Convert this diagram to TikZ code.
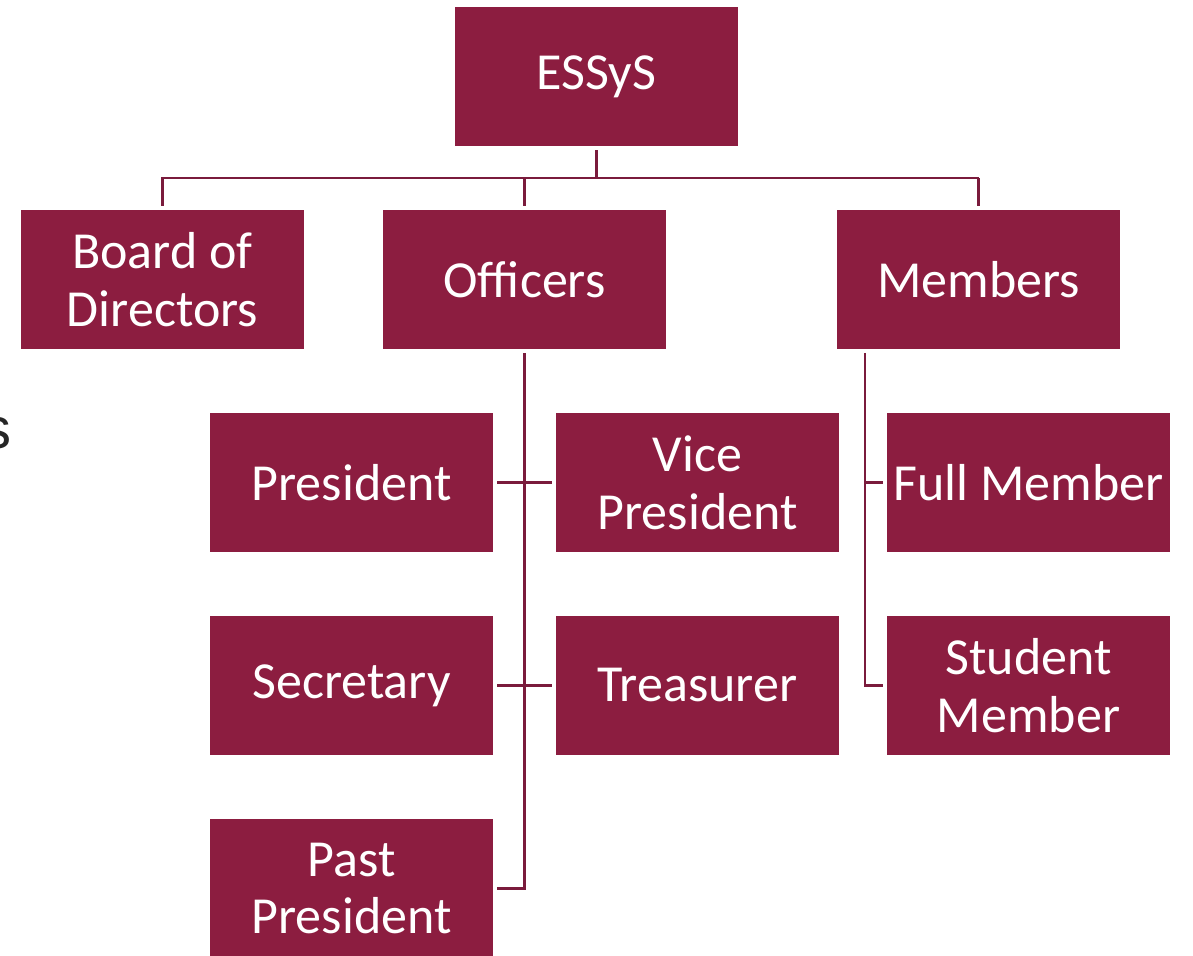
\documentclass[tikz,border=0pt]{standalone}
\usepackage{fontspec}
\setmainfont{Carlito}
\newfontfamily\arialfont{Liberation Sans}
\definecolor{maroon}{HTML}{8C1D40}
\definecolor{linemaroon}{HTML}{7A1B3C}
\begin{document}
\begin{tikzpicture}[x=0.02cm,y=-0.02cm,
    box/.style={fill=maroon, text=white, minimum width=5.66cm, minimum height=2.78cm,
        inner sep=0pt, align=center, font=\fontsize{29.6}{33}\selectfont},
    link/.style={draw=linemaroon, line width=1.4pt, shorten <=2.2pt}]
    \useasboundingbox (0,0) rectangle (1193,956);
    \node[anchor=base east, text=black!85, font=\arialfont\fontsize{33}{36}\selectfont] (cut) at (18,448) {s};
    \node[box] (essys) at (596.5,76.5) {ESSyS};
    \node[box] (board) at (162.5,279.5) {Board of\\Directors};
    \node[box] (officers) at (524.5,279.5) {Officers};
    \node[box] (members) at (978.5,279.5) {Members};
    \node[box] (president) at (351.5,482.5) {President};
    \node[box] (vice) at (697.5,482.5) {Vice\\President};
    \node[box] (full) at (1028.5,482.5) {Full Member};
    \node[box] (secretary) at (351.5,685.5) {Secretary};
    \node[box] (treasurer) at (697.5,685.5) {Treasurer};
    \node[box] (student) at (1028.5,685.5) {Student\\Member};
    \node[box] (past) at (351.5,888.5) {Past\\President};
    \coordinate (bus) at (0,178);
    \coordinate (mspine) at (865,349);
    \draw[link] (essys.south) -- (essys.south |- bus);
    \draw[link] (board.north) |- (bus -| members.north);
    \draw[link] (officers.north) -- (officers.north |- bus);
    \draw[link] (members.north) -- (members.north |- bus);
    \draw[link, shorten >=2.2pt] (officers.south) |- (past.east);
    \draw[link, shorten >=2.2pt] (president.east) -- (vice.west);
    \draw[link, shorten >=2.2pt] (secretary.east) -- (treasurer.west);
    \draw[link, shorten >=2.2pt] (mspine) |- (student.west);
    \draw[link, shorten <=0pt, shorten >=2.2pt] (mspine |- full.west) -- (full.west);
\end{tikzpicture}
\end{document}
